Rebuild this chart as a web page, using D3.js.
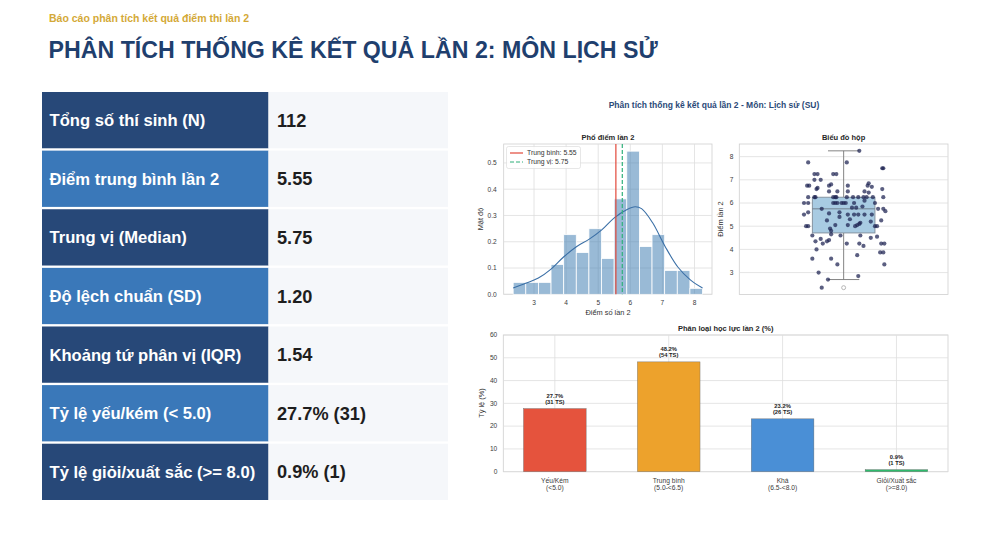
<!DOCTYPE html>
<html>
<head>
<meta charset="utf-8">
<script src="https://cdn.jsdelivr.net/npm/d3@7"></script>
<style>
  html, body { margin: 0; padding: 0; background: #fff; }
  svg { display: block; font-family: "Liberation Sans", Arial, sans-serif; }
</style>
</head>
<body>
<svg id="chart" width="1000" height="535"></svg>
<script>
// Stats table
const statLabels = [
  'Tổng số thí sinh (N)', 'Điểm trung bình lần 2', 'Trung vị (Median)', 'Độ lệch chuẩn (SD)',
  'Khoảng tứ phân vị (IQR)', 'Tỷ lệ yếu/kém (< 5.0)', 'Tỷ lệ giỏi/xuất sắc (>= 8.0)'
];
const statValues = ['112', '5.55', '5.75', '1.20', '1.54', '27.7% (31)', '0.9% (1)'];

// Histogram (15 bins between min and max score)
const nStudents = 112;
const scoreRange = [2.35, 8.25];
const histCounts = [2, 2, 2, 5, 10, 7, 11, 6, 16, 24, 8, 10, 4, 4, 1];
const kdeX = [2.35, 2.74, 3.135, 3.53, 3.92, 4.32, 4.71, 5.11, 5.5, 5.9, 6.15, 6.35, 6.69, 7.08, 7.48, 7.87, 8.25];
const kdeY = [0.024, 0.042, 0.062, 0.096, 0.142, 0.181, 0.209, 0.245, 0.291, 0.323, 0.333, 0.326, 0.273, 0.183, 0.104, 0.055, 0.024];
const meanScore = 5.55;
const medianScore = 5.75;
const histXTicks = [3, 4, 5, 6, 7, 8];
const histYTicks = [0, 0.1, 0.2, 0.3, 0.4, 0.5];

// Box plot: [q1, median, q3, lower whisker, upper whisker]
const boxStats = [4.71, 5.75, 6.25, 2.7, 8.25];
const boxOutliers = [2.35];
const boxYTicks = [3, 4, 5, 6, 7, 8];
// strip points: [score, jitter]
const stripPoints = [
  [8.25, 0.075],
  [7.75, -0.17], [7.75, 0.015], [7.5, 0.19], [7.5, 0.185],
  [7.25, -0.14], [7.25, -0.125], [7.25, -0.05], [7.25, -0.035],
  [7.0, -0.14], [7.0, -0.11], [6.75, -0.175], [6.75, -0.165], [6.75, -0.07], [6.8, -0.06], [6.85, 0.12], [6.75, 0.115], [6.75, 0.02], [6.7, 0.135],
  [6.6, -0.13], [6.65, -0.125], [6.5, -0.03], [6.5, 0.02], [6.5, 0.1], [6.6, 0.185], [6.5, -0.07], [6.45, 0.12],
  [6.25, -0.17], [6.25, -0.14], [6.25, -0.135], [6.25, -0.05], [6.25, -0.04], [6.25, -0.035], [6.25, 0.015], [6.25, 0.045], [6.25, 0.07], [6.25, 0.095], [6.25, 0.11], [6.25, 0.14], [6.25, 0.19],
  [6.0, -0.19], [6.0, -0.17], [6.0, -0.05], [6.0, -0.04], [6.0, -0.03], [6.0, -0.01], [6.0, 0.0], [6.0, 0.01], [6.0, 0.05], [6.1, 0.1], [6.0, 0.15],
  [5.75, -0.105], [5.8, 0.06], [5.85, 0.09], [5.75, 0.19], [5.65, 0.2], [5.5, -0.19], [5.6, -0.17], [5.55, -0.07], [5.6, -0.02], [5.5, 0.02], [5.5, 0.05], [5.5, 0.07], [5.5, 0.1], [5.5, 0.135], [5.75, 0.165], [5.8, 0.04],
  [5.25, -0.08], [5.4, -0.02], [5.3, 0.03], [5.15, 0.08], [5.2, 0.13], [5.25, 0.18],
  [5.0, -0.18], [5.0, -0.17], [5.0, 0.15], [5.0, 0.16], [5.05, -0.04], [5.05, 0.02], [5.0, 0.055], [5.1, 0.075], [5.05, 0.065], [4.9, -0.065], [4.8, -0.06],
  [4.6, -0.15], [4.45, -0.11], [4.65, -0.06], [4.6, -0.015], [4.6, 0.08], [4.5, 0.13], [4.55, 0.16],
  [4.35, -0.135], [4.25, -0.1], [4.35, -0.08], [4.25, 0.015], [4.25, 0.075], [4.15, 0.095], [4.25, 0.18], [4.25, 0.195], [4.0, -0.13], [4.4, -0.07],
  [3.6, -0.15], [3.6, -0.06], [3.75, 0.065], [3.87, 0.175], [3.87, 0.19],
  [3.35, -0.03], [3.35, 0.195],
  [3.0, -0.12], [2.85, 0.07],
  [2.7, -0.075], [2.35, -0.105]
];

// Grade bars
const gradeLabels = [['Yếu/Kém', '(<5.0)'], ['Trung bình', '(5.0-<6.5)'], ['Khá', '(6.5-<8.0)'], ['Giỏi/Xuất sắc', '(>=8.0)']];
const gradePct = [27.7, 48.2, 23.2, 0.9];
const gradeCount = [31, 54, 26, 1];
const gradeColors = ['#e5533d', '#eda22c', '#4a8fd6', '#2dbb6c'];
const gradeYTicks = [0, 10, 20, 30, 40, 50, 60];

const svg = d3.select('#chart');
const gridColor = '#dedede';
const tickColor = '#3a3a3a';

// Header
svg.append('text').attr('x', 49).attr('y', 21.5)
  .attr('font-size', 10.5).attr('font-weight', 700).attr('fill', '#d4a937')
  .text('Báo cáo phân tích kết quả điểm thi lần 2');
svg.append('text').attr('x', 48.5).attr('y', 57.5)
  .attr('font-size', 23.2).attr('font-weight', 700).attr('fill', '#1f3f6e')
  .text('PHÂN TÍCH THỐNG KÊ KẾT QUẢ LẦN 2: MÔN LỊCH SỬ');

// Table
const rowY = d3.scaleBand().domain(d3.range(statLabels.length)).range([92, 500]).paddingInner(0.04);
const table = svg.append('g');
statLabels.forEach((label, i) => {
  const y = rowY(i), h = rowY.bandwidth();
  table.append('rect').attr('x', 42).attr('y', y).attr('width', 226.5).attr('height', h)
    .attr('fill', i % 2 === 0 ? '#274878' : '#3a78b9');
  table.append('rect').attr('x', 268.5).attr('y', y).attr('width', 179.5).attr('height', h)
    .attr('fill', '#f5f7fa');
  table.append('text').attr('x', 49.5).attr('y', y + h / 2 + 6)
    .attr('font-size', 16.6).attr('font-weight', 700).attr('fill', '#fff').text(label);
  table.append('text').attr('x', 277).attr('y', y + h / 2 + 6.5)
    .attr('font-size', 18.2).attr('font-weight', 700).attr('fill', '#1e1e1e').text(statValues[i]);
});

// Figure title
svg.append('text').attr('x', 714).attr('y', 107.5).attr('text-anchor', 'middle')
  .attr('font-size', 8.5).attr('font-weight', 700).attr('fill', '#2b4a78')
  .text('Phân tích thống kê kết quả lần 2 - Môn: Lịch sử (SU)');

function axesFrame(x0, x1, y0, y1) {
  svg.append('rect').attr('x', x0).attr('y', y0).attr('width', x1 - x0).attr('height', y1 - y0)
    .attr('fill', '#fff').attr('stroke', '#cfcfcf').attr('stroke-width', 0.8);
}
function hGrid(g, yScale, ticks, x0, x1) {
  g.selectAll(null).data(ticks).enter().append('line')
    .attr('x1', x0).attr('x2', x1).attr('y1', d => yScale(d)).attr('y2', d => yScale(d))
    .attr('stroke', gridColor).attr('stroke-width', 0.8);
}
function vGrid(g, xPos, ticks, y0, y1) {
  g.selectAll(null).data(ticks).enter().append('line')
    .attr('x1', d => xPos(d)).attr('x2', d => xPos(d)).attr('y1', y0).attr('y2', y1)
    .attr('stroke', gridColor).attr('stroke-width', 0.8);
}
function yTickLabels(yScale, ticks, x, fmt) {
  svg.append('g').selectAll('text').data(ticks).enter().append('text')
    .attr('x', x).attr('y', d => yScale(d) + 2.3).attr('text-anchor', 'end')
    .attr('font-size', 6.6).attr('fill', tickColor).text(fmt);
}
function smallTitle(x, y, t) {
  svg.append('text').attr('x', x).attr('y', y).attr('text-anchor', 'middle')
    .attr('font-size', 7.5).attr('font-weight', 700).attr('fill', '#262626').text(t);
}
function yLabel(x, y, t) {
  svg.append('text').attr('transform', `translate(${x},${y}) rotate(-90)`).attr('text-anchor', 'middle')
    .attr('font-size', 7.4).attr('fill', '#333').text(t);
}

// ---- Histogram ----
const pad = (scoreRange[1] - scoreRange[0]) * 0.05;
const hx = d3.scaleLinear().domain([scoreRange[0] - pad, scoreRange[1] + pad]).range([503.7, 712]);
const binW = (scoreRange[1] - scoreRange[0]) / histCounts.length;
const histBins = histCounts.map((c, i) => ({
  x0: scoreRange[0] + i * binW, x1: scoreRange[0] + (i + 1) * binW, density: c / (nStudents * binW)
}));
const hy = d3.scaleLinear().domain([0, d3.max(histBins, d => d.density) * 1.05]).range([294.3, 144]);

axesFrame(503.7, 712, 144, 294.3);
const hg = svg.append('g');
hGrid(hg, hy, histYTicks, 503.7, 712);
vGrid(hg, hx, histXTicks, 144, 294.3);

hg.selectAll('rect.bin').data(histBins).enter().append('rect').attr('class', 'bin')
  .attr('x', d => hx(d.x0)).attr('width', d => hx(d.x1) - hx(d.x0))
  .attr('y', d => hy(d.density)).attr('height', d => hy(0) - hy(d.density))
  .attr('fill', '#4682b4').attr('fill-opacity', 0.55).attr('stroke', '#fff').attr('stroke-width', 0.8);

hg.append('path').datum(kdeX.map((x, i) => [x, kdeY[i]]))
  .attr('fill', 'none').attr('stroke', '#3a6fa6').attr('stroke-width', 1.1)
  .attr('d', d3.line().x(d => hx(d[0])).y(d => hy(d[1])).curve(d3.curveCatmullRom));

hg.append('line').attr('x1', hx(meanScore)).attr('x2', hx(meanScore)).attr('y1', 144).attr('y2', 294.3)
  .attr('stroke', '#e2483a').attr('stroke-width', 1.2);
hg.append('line').attr('x1', hx(medianScore)).attr('x2', hx(medianScore)).attr('y1', 144).attr('y2', 294.3)
  .attr('stroke', '#2fb07a').attr('stroke-width', 1.2).attr('stroke-dasharray', '4,2');

svg.append('g').selectAll('text').data(histXTicks).enter().append('text')
  .attr('x', d => hx(d)).attr('y', 305).attr('text-anchor', 'middle')
  .attr('font-size', 6.6).attr('fill', tickColor).text(d => d);
yTickLabels(hy, histYTicks, 496.7, d3.format('.1f'));
smallTitle(608, 139.5, 'Phổ điểm lần 2');
svg.append('text').attr('x', 608).attr('y', 314.5).attr('text-anchor', 'middle')
  .attr('font-size', 7.4).attr('fill', '#333').text('Điểm số lần 2');
yLabel(483, 219, 'Mật độ');

// legend
const lg = svg.append('g');
lg.append('rect').attr('x', 506.5).attr('y', 146.5).attr('width', 74).attr('height', 22).attr('rx', 2)
  .attr('fill', '#fff').attr('fill-opacity', 0.85).attr('stroke', '#d6d6d6').attr('stroke-width', 0.6);
lg.append('line').attr('x1', 510).attr('x2', 523).attr('y1', 153).attr('y2', 153)
  .attr('stroke', '#e2483a').attr('stroke-width', 1.2);
lg.append('line').attr('x1', 510).attr('x2', 523).attr('y1', 162).attr('y2', 162)
  .attr('stroke', '#2fb07a').attr('stroke-width', 1.2).attr('stroke-dasharray', '4,2');
lg.append('text').attr('x', 527).attr('y', 155.3).attr('font-size', 6.8).attr('fill', '#333')
  .text(`Trung bình: ${meanScore.toFixed(2)}`);
lg.append('text').attr('x', 527).attr('y', 164.3).attr('font-size', 6.8).attr('fill', '#333')
  .text(`Trung vị: ${medianScore.toFixed(2)}`);

// ---- Box plot ----
const bx = d3.scaleLinear().domain([-0.5, 0.5]).range([739.3, 948]);
const by = d3.scaleLinear().domain([scoreRange[0] - pad, scoreRange[1] + pad]).range([294.5, 144]);
axesFrame(739.3, 948, 144, 294.5);
const bg = svg.append('g');
hGrid(bg, by, boxYTicks, 739.3, 948);
const [q1, med, q3, wLo, wHi] = boxStats;
const halfW = 0.15;
bg.append('line').attr('x1', bx(0)).attr('x2', bx(0)).attr('y1', by(q3)).attr('y2', by(wHi))
  .attr('stroke', '#777').attr('stroke-width', 0.9);
bg.append('line').attr('x1', bx(0)).attr('x2', bx(0)).attr('y1', by(q1)).attr('y2', by(wLo))
  .attr('stroke', '#777').attr('stroke-width', 0.9);
[wLo, wHi].forEach(w => {
  bg.append('line').attr('x1', bx(-halfW / 2)).attr('x2', bx(halfW / 2)).attr('y1', by(w)).attr('y2', by(w))
    .attr('stroke', '#777').attr('stroke-width', 0.9);
});
bg.append('rect').attr('x', bx(-halfW)).attr('width', bx(halfW) - bx(-halfW))
  .attr('y', by(q3)).attr('height', by(q1) - by(q3))
  .attr('fill', '#a8cbe2').attr('stroke', '#7f8c99').attr('stroke-width', 0.9);
bg.append('line').attr('x1', bx(-halfW)).attr('x2', bx(halfW)).attr('y1', by(med)).attr('y2', by(med))
  .attr('stroke', '#6d7a88').attr('stroke-width', 0.9);
bg.selectAll('circle.out').data(boxOutliers).enter().append('circle').attr('class', 'out')
  .attr('cx', bx(0)).attr('cy', d => by(d)).attr('r', 2)
  .attr('fill', 'none').attr('stroke', '#999').attr('stroke-width', 0.7);
bg.selectAll('circle.pt').data(stripPoints).enter().append('circle').attr('class', 'pt')
  .attr('cx', d => bx(d[1])).attr('cy', d => by(d[0])).attr('r', 2.1)
  .attr('fill', '#1c2150').attr('fill-opacity', 0.72);
yTickLabels(by, boxYTicks, 733.5, d => d);
smallTitle(843.6, 139.5, 'Biểu đồ hộp');
yLabel(722.5, 219, 'Điểm lần 2');

// ---- Grade bars ----
const gx = d3.scaleBand().domain(d3.range(gradePct.length)).range([503.3, 948])
  .paddingInner(0.45).paddingOuter(0.1775);
const gy = d3.scaleLinear().domain([0, 60]).range([471.7, 335]);
axesFrame(503.3, 948, 335, 471.7);
const gg = svg.append('g');
hGrid(gg, gy, gradeYTicks, 503.3, 948);
vGrid(gg, i => gx(i) + gx.bandwidth() / 2, d3.range(gradePct.length), 335, 471.7);
gg.selectAll('rect.bar').data(gradePct).enter().append('rect').attr('class', 'bar')
  .attr('x', (d, i) => gx(i)).attr('width', gx.bandwidth())
  .attr('y', d => gy(d)).attr('height', d => gy(0) - gy(d))
  .attr('fill', (d, i) => gradeColors[i]).attr('stroke', '#666').attr('stroke-width', 0.4);
const vl = gg.selectAll('text.val').data(gradePct).enter().append('text').attr('class', 'val')
  .attr('text-anchor', 'middle').attr('font-size', 5.8).attr('font-weight', 700).attr('fill', '#222');
vl.append('tspan').attr('x', (d, i) => gx(i) + gx.bandwidth() / 2).attr('y', d => gy(d) - 10.5)
  .text(d => d.toFixed(1) + '%');
vl.append('tspan').attr('x', (d, i) => gx(i) + gx.bandwidth() / 2).attr('y', d => gy(d) - 4.6)
  .text((d, i) => `(${gradeCount[i]} TS)`);
const xl = svg.append('g').selectAll('text').data(gradeLabels).enter().append('text')
  .attr('text-anchor', 'middle').attr('font-size', 6.7).attr('fill', tickColor);
xl.append('tspan').attr('x', (d, i) => gx(i) + gx.bandwidth() / 2).attr('y', 482.6).text(d => d[0]);
xl.append('tspan').attr('x', (d, i) => gx(i) + gx.bandwidth() / 2).attr('y', 490.3).text(d => d[1]);
yTickLabels(gy, gradeYTicks, 497.3, d => d);
smallTitle(725.7, 331, 'Phân loại học lực lần 2 (%)');
yLabel(483.5, 403, 'Tỷ lệ (%)');
</script>
</body>
</html>
